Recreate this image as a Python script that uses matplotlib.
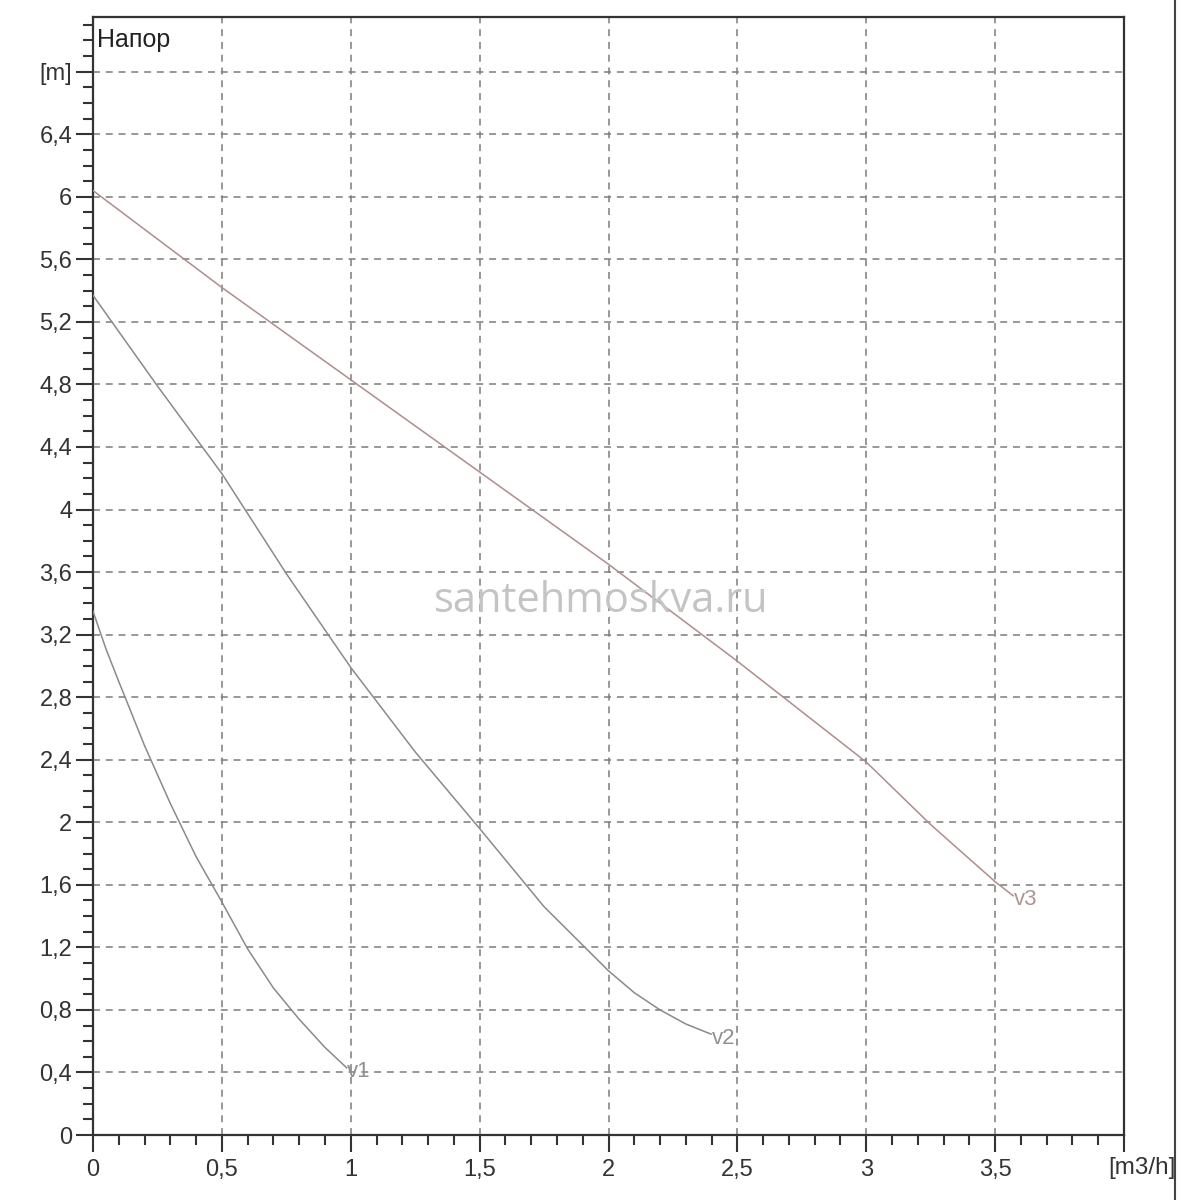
import matplotlib
matplotlib.use("Agg")
import matplotlib.pyplot as plt
from matplotlib.ticker import MultipleLocator, FixedLocator, FixedFormatter
from matplotlib.lines import Line2D

# ---- data ----
v1_x = [0.0, 0.05, 0.1, 0.2, 0.3, 0.4, 0.5, 0.6, 0.7, 0.8, 0.9, 0.984]
v1_y = [3.35, 3.11, 2.90, 2.49, 2.12, 1.78, 1.49, 1.19, 0.94, 0.74, 0.56, 0.43]

v2_x = [0.0, 0.25, 0.5, 0.75, 1.0, 1.25, 1.5, 1.75, 2.0, 2.1, 2.2, 2.3, 2.398]
v2_y = [5.37, 4.79, 4.23, 3.59, 2.99, 2.45, 1.96, 1.46, 1.05, 0.91, 0.80, 0.71, 0.645]

v3_x = [0.0, 0.5, 1.0, 1.5, 2.0, 2.5, 3.0, 3.25, 3.5, 3.57]
v3_y = [6.04, 5.42, 4.83, 4.24, 3.65, 3.03, 2.385, 1.985, 1.62, 1.53]

curve_names = ["v1", "v2", "v3"]

x_major = [0.5, 1.0, 1.5, 2.0, 2.5, 3.0, 3.5, 4.0]
x_tick_labels = ["0", "0,5", "1", "1,5", "2", "2,5", "3", "3,5", ""]
y_major = [0.0, 0.4, 0.8, 1.2, 1.6, 2.0, 2.4, 2.8, 3.2, 3.6, 4.0, 4.4, 4.8,
           5.2, 5.6, 6.0, 6.4, 6.8]
y_tick_labels = ["0", "0,4", "0,8", "1,2", "1,6", "2", "2,4", "2,8", "3,2",
                 "3,6", "4", "4,4", "4,8", "5,2", "5,6", "6", "6,4", "[m]"]
y_title = "Напор"
x_unit = "[m3/h]"
watermark = "santehmoskva.ru"

# ---- style ----
plt.rcParams['font.family'] = ['Liberation Sans', 'DejaVu Sans']
plt.rcParams['lines.scale_dashes'] = False

fig = plt.figure(figsize=(12, 12), dpi=100)
ax = fig.add_axes([93/1200, 1 - 1135/1200, (1124 - 93)/1200, (1135 - 17)/1200])

ax.set_xlim(0, 4.0)
ax.set_ylim(0, 7.15)

grid_kw = dict(color='#7c7c7c', lw=1.1, dashes=(5, 4.2), zorder=1)
for gx in x_major[:-1]:
    ax.axvline(gx, **grid_kw)
for gy in y_major[1:]:
    ax.axhline(gy, **grid_kw)

gray = '#8a8a8e'
red = '#b08c8c'
ax.plot(v1_x, v1_y, color=gray, lw=1.1, zorder=3)
ax.plot(v2_x, v2_y, color=gray, lw=1.1, zorder=3)
ax.plot(v3_x, v3_y, color=red, lw=1.1, zorder=3)

for xs, ys, name, c in [(v1_x, v1_y, curve_names[0], '#909090'),
                        (v2_x, v2_y, curve_names[1], '#909090'),
                        (v3_x, v3_y, curve_names[2], '#b09494')]:
    ax.annotate(name, xy=(xs[-1], ys[-1]), xytext=(0.5, -3),
                textcoords='offset points', ha='left', va='center',
                fontsize=16, color=c, zorder=4)

# ticks
ax.xaxis.set_major_locator(FixedLocator([0.0] + x_major))
ax.xaxis.set_major_formatter(FixedFormatter(x_tick_labels))
ax.xaxis.set_minor_locator(MultipleLocator(0.1))
ax.yaxis.set_major_locator(FixedLocator(y_major))
ax.yaxis.set_major_formatter(FixedFormatter(y_tick_labels))
ax.yaxis.set_minor_locator(MultipleLocator(0.1))

ax.tick_params(which='major', length=12.5, width=1.5, color='#333333',
               labelsize=17, labelcolor='#333333')
ax.tick_params(which='minor', length=7.5, width=1.5, color='#333333')
ax.tick_params(axis='x', which='major', pad=5)
ax.tick_params(axis='y', which='major', pad=2.5)

for s in ax.spines.values():
    s.set_linewidth(1.6)
    s.set_color('#333333')

ax.annotate(x_unit, xy=(4.0, 0), xycoords=('data', 'axes fraction'),
            xytext=(13, -24), textcoords='offset points',
            ha='center', va='center', fontsize=17.5, color='#333333')

ax.text(0.004, 0.99, y_title, transform=ax.transAxes, ha='left', va='top',
        fontsize=18, color='#222222')

fig.text(601/1200, 1 - 601/1200, watermark, ha='center', va='center',
         fontsize=30, color='#c4c4c4', family=['Open Sans', 'DejaVu Sans'],
         zorder=5)

fig.add_artist(Line2D([1175/1200, 1175/1200], [0, 1], transform=fig.transFigure,
                      color='#444444', lw=1.5))

fig.savefig("out.png", dpi=100, facecolor='white')
